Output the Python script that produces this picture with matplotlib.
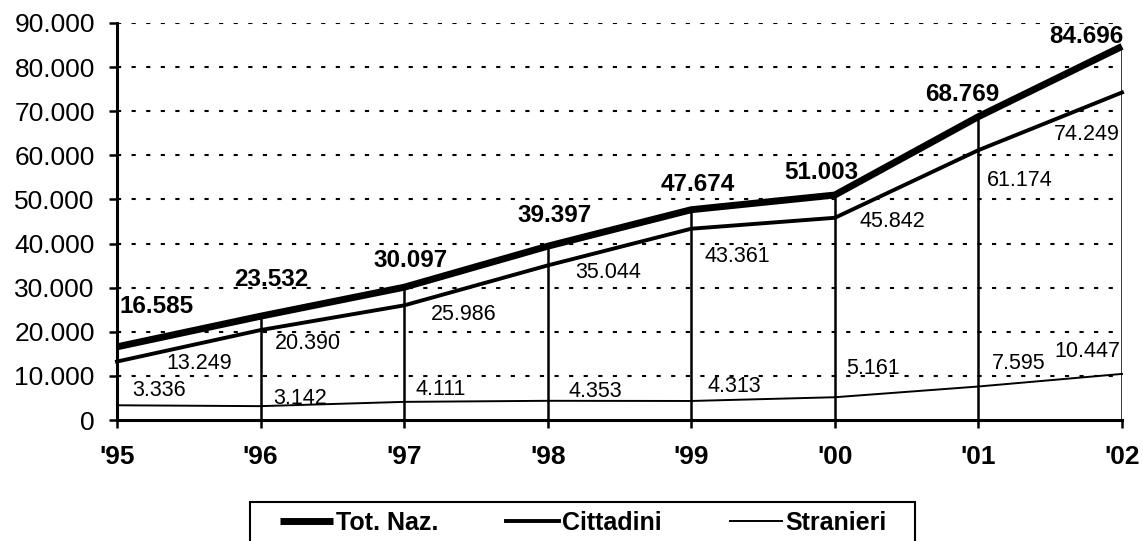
import matplotlib
matplotlib.use("Agg")
import matplotlib.pyplot as plt
from matplotlib.patches import Rectangle
from matplotlib.ticker import FuncFormatter

plt.rcParams["font.family"] = ["Liberation Sans", "DejaVu Sans"]

anni = ["'95", "'96", "'97", "'98", "'99", "'00", "'01", "'02"]
tot_naz = [16585, 23532, 30097, 39397, 47674, 51003, 68769, 84696]
cittadini = [13249, 20390, 25986, 35044, 43361, 45842, 61174, 74249]
stranieri = [3336, 3142, 4111, 4353, 4313, 5161, 7595, 10447]

# spostamento delle etichette (pixel) rispetto al punto
off_tot = [(40, 40), (11, 37), (6, 27), (7, 31), (6, 25), (-14, 23), (-16, 22), (-36, 10)]
off_citt = [(82, -2), (47, -13), (60, -9), (60, -7), (46, -28), (58, -4), (41, -30), (-35, -42)]
off_stra = [(42, 15), (40, 8), (37, 12), (48, 9), (43, 14), (38, 29), (40, 23), (-35, 22)]


def fmt(v):
    return f"{v:,.0f}".replace(",", ".")


fig = plt.figure(figsize=(11.43, 5.41), dpi=100)
ax = fig.add_axes([117 / 1143, 1 - 420 / 541, (1122 - 117) / 1143, (420 - 23) / 541])

x = list(range(len(anni)))

ax.set_xlim(0, len(anni) - 1)
ax.set_ylim(0, 90000)
ax.set_yticks(range(0, 90001, 10000))
ax.yaxis.set_major_formatter(FuncFormatter(lambda v, p: fmt(v)))
ax.set_xticks(x)
ax.set_xticklabels(anni, fontweight="bold")

for v in range(10000, 90001, 10000):
    ax.axhline(v, color="black", lw=1.5, ls=(0, (2, 5)), zorder=1)

ax.vlines(x[1:], 0, tot_naz[1:], color="black", lw=1.8, zorder=2)

l1, = ax.plot(x, tot_naz, color="black", lw=5, solid_capstyle="butt", clip_on=False, zorder=4)
l2, = ax.plot(x, cittadini, color="black", lw=2.8, clip_on=False, zorder=3)
l3, = ax.plot(x, stranieri, color="black", lw=1.4, clip_on=False, zorder=3)

for i in x:
    ax.annotate(fmt(tot_naz[i]), (i, tot_naz[i]), xytext=off_tot[i], textcoords="offset pixels",
                ha="center", va="center", fontsize=17.5, fontweight="bold")
    ax.annotate(fmt(cittadini[i]), (i, cittadini[i]), xytext=off_citt[i], textcoords="offset pixels",
                ha="center", va="center", fontsize=15.5)
    ax.annotate(fmt(stranieri[i]), (i, stranieri[i]), xytext=off_stra[i], textcoords="offset pixels",
                ha="center", va="center", fontsize=15.5)

for s in ["top", "right"]:
    ax.spines[s].set_visible(False)
ax.spines["left"].set_linewidth(2.2)
ax.spines["bottom"].set_linewidth(2.2)
ax.tick_params(axis="y", direction="out", length=6, width=1.8, labelsize=19, pad=10)
ax.tick_params(axis="x", direction="out", length=6, width=1.8, labelsize=19, pad=12)

# riquadro della legenda
fig.patches.append(Rectangle((250 / 1143, -0.02), (915 - 250) / 1143, 0.02 + (541 - 502) / 541,
                             transform=fig.transFigure, fill=False, edgecolor="black", lw=1.5))

fig.legend([l1, l2, l3], ["Tot. Naz.", "Cittadini", "Stranieri"], ncol=3,
           loc="center left", bbox_to_anchor=(280 / 1143, 1 - 523 / 541),
           prop={"weight": "bold", "size": 18}, frameon=False,
           handlelength=2.1, handletextpad=0.15, columnspacing=2.7,
           borderpad=0, borderaxespad=0)

fig.savefig("out.png", dpi=100, facecolor="white")
